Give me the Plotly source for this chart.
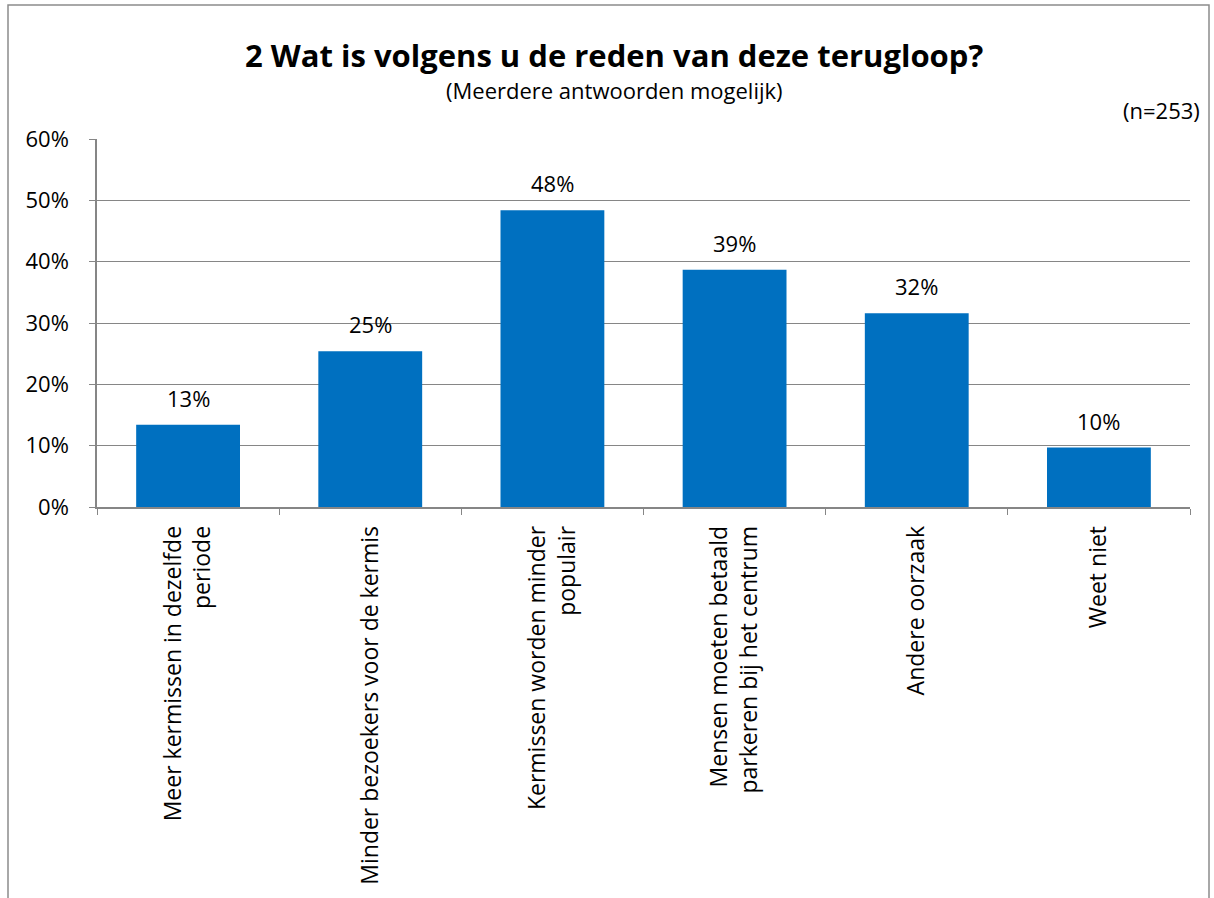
import plotly.graph_objects as go

categories = [
    "Meer kermissen in dezelfde<br>periode",
    "Minder bezoekers voor de kermis",
    "Kermissen worden minder<br>populair",
    "Mensen moeten betaald<br>parkeren bij het centrum",
    "Andere oorzaak",
    "Weet niet",
]
values = [0.134, 0.254, 0.484, 0.387, 0.316, 0.097]
y_ticks = [0, 0.1, 0.2, 0.3, 0.4, 0.5, 0.6]
y_tick_labels = ["0%", "10%", "20%", "30%", "40%", "50%", "60%"]

BAR = "#0070C0"
GRID = "#868686"
FONT = "Open Sans"

fig = go.Figure()
fig.add_trace(go.Bar(
    x=categories, y=values, marker=dict(color=BAR, line=dict(width=0)),
    hoverinfo="skip",
))

L, R, T, B = 97, 24, 139, 391
W = 1214 - L - R
H = 898 - T - B
def px(x): return (x - L) / W
def py(y): return (898 - B - y) / H

annotations = []
for c, v in zip(categories, values):
    annotations.append(dict(
        x=c, y=v, xref="x", yref="y", text=f"{round(v*100):d}%",
        showarrow=False, yshift=27, yanchor="middle",
        font=dict(family=FONT, size=22, color="#000000"),
    ))

annotations += [
    dict(text="<b>2 Wat is volgens u de reden van deze terugloop?</b>", x=px(614), y=py(55),
         xref="paper", yref="paper", showarrow=False, xanchor="center", yanchor="middle",
         font=dict(family="Open Sans", size=31, color="#000000")),
    dict(text="(Meerdere antwoorden mogelijk)", x=px(614), y=py(90),
         xref="paper", yref="paper", showarrow=False, xanchor="center", yanchor="middle",
         font=dict(family=FONT, size=22, color="#000000")),
    dict(text="(n=253)", x=px(1202), y=py(110),
         xref="paper", yref="paper", showarrow=False, xanchor="right", yanchor="middle",
         font=dict(family=FONT, size=22, color="#000000")),
]

fig.update_layout(
    width=1214, height=898,
    margin=dict(l=L, r=R, t=T, b=B),
    paper_bgcolor="white", plot_bgcolor="white",
    bargap=0.43,
    showlegend=False,
    font=dict(family=FONT, size=22, color="#000000"),
    annotations=annotations,
    xaxis=dict(
        tickangle=-90, tickson="boundaries", ticks="outside", ticklen=6,
        tickcolor=GRID, showline=True, linecolor=GRID, linewidth=1.5,
        showgrid=False, tickfont=dict(family=FONT, size=23),
        ticklabelstandoff=8,
    ),
    yaxis=dict(
        range=[0, 0.6], tickvals=y_ticks, ticktext=y_tick_labels,
        ticks="outside", ticklen=6, tickcolor=GRID,
        showline=True, linecolor=GRID, linewidth=1.5,
        showgrid=True, gridcolor=GRID, gridwidth=1, zeroline=False,
        tickfont=dict(family=FONT, size=22),
        ticklabelstandoff=16,
    ),
)

fig.add_shape(type="rect", xref="paper", yref="paper",
              x0=px(8), x1=px(1209), y0=py(905), y1=py(5),
              line=dict(color="#8C8C8C", width=1.5), fillcolor="rgba(0,0,0,0)", layer="below")

fig.write_html("out.html", config={"displayModeBar": False},
               post_script="document.body.style.margin='0';")
